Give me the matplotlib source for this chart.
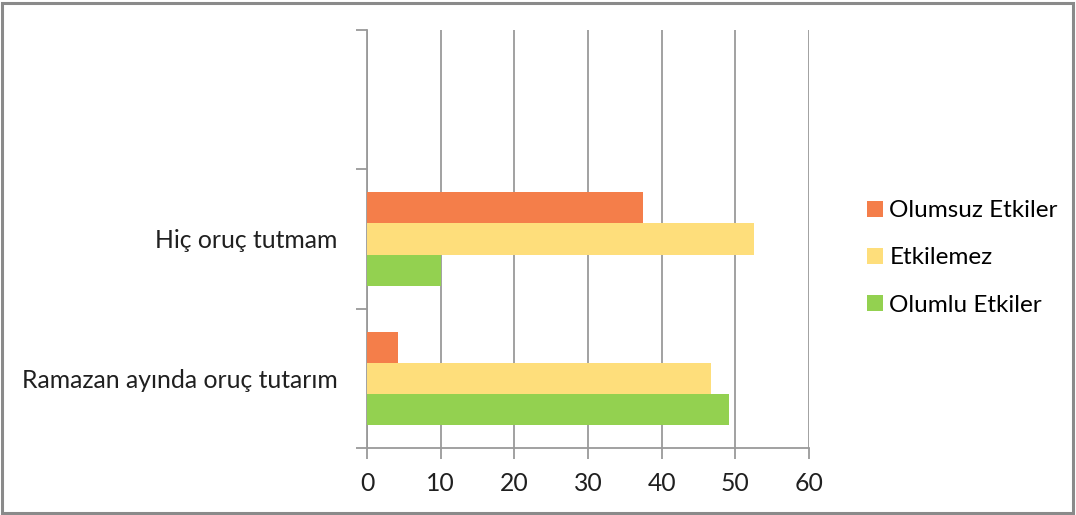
import matplotlib
matplotlib.use("Agg")
import matplotlib.pyplot as plt
from matplotlib.patches import Rectangle
import numpy as np

categories = ["Ramazan ayında oruç tutarım", "Hiç oruç tutmam", ""]
series_names = ["Olumsuz Etkiler", "Etkilemez", "Olumlu Etkiler"]
olumsuz = [4.2, 37.5, 0]
etkilemez = [46.7, 52.5, 0]
olumlu = [49.2, 10.0, 0]
colors = ["#F47E4A", "#FEDE7B", "#93D150"]
x_ticks = [0, 10, 20, 30, 40, 50, 60]

plt.rcParams['font.family'] = ['Lato', 'DejaVu Sans']

W, H = 1076, 515
fig = plt.figure(figsize=(W / 100, H / 100), dpi=100)
ax = fig.add_axes([367 / W, 1 - 448 / H, (809 - 367) / W, (448 - 30) / H])

y = np.arange(len(categories))
bh = 0.223
grid_c = "#9A9A9A"
for vals, off, c, name in [(olumsuz, bh, colors[0], series_names[0]),
                           (etkilemez, 0, colors[1], series_names[1]),
                           (olumlu, -bh, colors[2], series_names[2])]:
    ax.barh(y + off, vals, height=bh, color=c, label=name, zorder=3,
            edgecolor="none")

fs = 17.8
ax.set_xlim(0, 60)
ax.set_ylim(-0.5, 2.5)
ax.set_xticks(x_ticks)
ax.set_xticklabels([str(t) for t in x_ticks], fontsize=fs, color="#202020")
ax.set_yticks([-0.5, 0.5, 1.5, 2.5])
ax.set_yticklabels([])
ax.set_yticks(y, minor=True)
ax.set_yticklabels(categories, minor=True, fontsize=fs, color="#202020")
ax.tick_params(axis='y', which='minor', length=0, pad=21)
ax.tick_params(axis='y', which='major', length=8, color=grid_c, width=1.3)
ax.tick_params(axis='x', length=8, color=grid_c, width=1.3, pad=9)
ax.grid(axis='x', color=grid_c, linewidth=1.3, zorder=0)
for s in ["top", "right"]:
    ax.spines[s].set_visible(False)
for s in ["left", "bottom"]:
    ax.spines[s].set_color(grid_c)
    ax.spines[s].set_linewidth(1.3)

handles, labels = ax.get_legend_handles_labels()
leg = fig.legend(handles, labels, loc="center left",
                 bbox_to_anchor=(848 / W, 1 - 258 / H), frameon=False,
                 fontsize=17.5, handlelength=0.65, handleheight=0.65,
                 handletextpad=0.25, labelspacing=1.07, borderpad=0.3)

fig.patches.append(Rectangle((2 / W, 2 / H), (W - 5) / W, (H - 5) / H,
                             transform=fig.transFigure, fill=False,
                             edgecolor="#8A8A8A", linewidth=2.2))

fig.savefig("out.png", dpi=100, facecolor="white")
